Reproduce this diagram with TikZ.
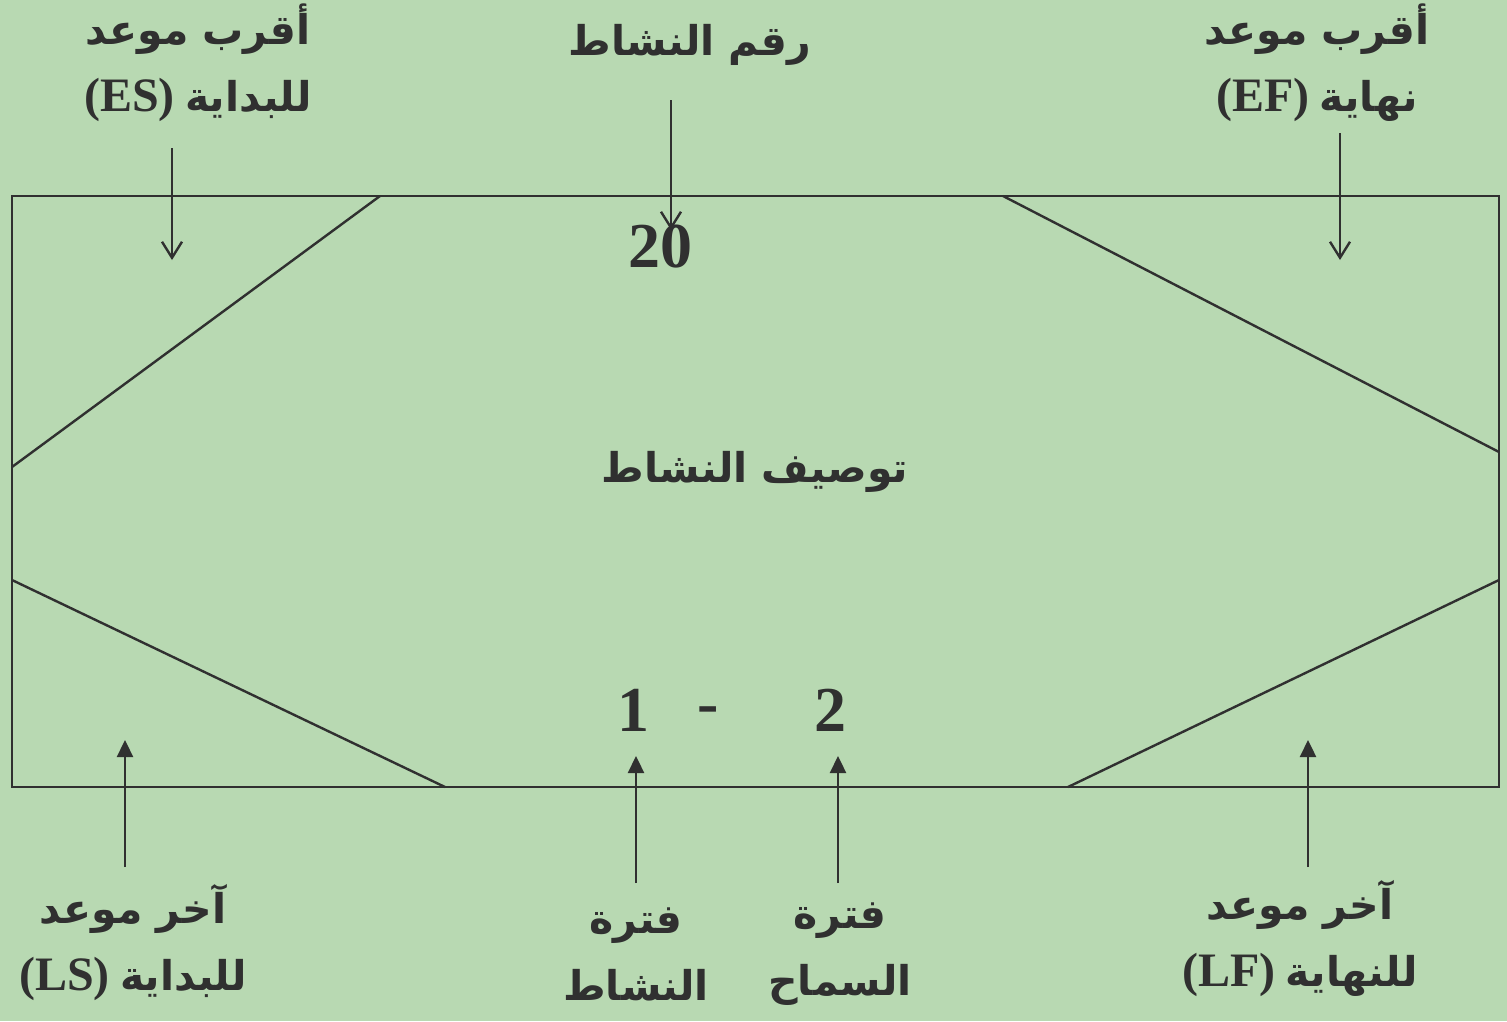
\documentclass[tikz,border=0pt]{standalone}
\usepackage{fontspec}
\setmainfont{Liberation Serif}
\newfontfamily\arabicfont[Script=Arabic]{DejaVu Sans}
\TeXXeTstate=1
\usetikzlibrary{arrows.meta}
\definecolor{bggreen}{RGB}{184,217,178}
\definecolor{ink}{RGB}{48,48,48}
\newcommand{\ar}[1]{{\arabicfont\beginR #1\endR}}
\newcommand{\lat}[1]{{\fontsize{48}{66}\selectfont\bfseries #1}}

\begin{document}
\begin{tikzpicture}[x=1pt,y=-1pt,
  lbl/.style={text=ink,font=\fontsize{41}{67}\selectfont\bfseries,align=center,inner sep=0pt},
  num/.style={text=ink,font=\fontsize{64}{64}\selectfont\bfseries,inner sep=0pt},
  edge/.style={draw=ink,line width=2.4pt},
  dnarr/.style={draw=ink,line width=2.4pt,-{Straight Barb[length=16pt,width=20pt,line width=2.4pt]}},
  uparr/.style={draw=ink,line width=2.4pt,-{Triangle[length=17pt,width=16pt]}}]
\useasboundingbox (0,0) rectangle (1507,1021);
\fill[bggreen] (0,0) rectangle (1507,1021);
% activity box
\node[edge,minimum width=1487pt,minimum height=591pt,inner sep=0pt] (box) at (755.5,491.5) {};
\draw[edge] (380,196) -- (12,467);
\draw[edge] (1003,196) -- (1499,452);
\draw[edge] (12,580) -- (445,787);
\draw[edge] (1068,787) -- (1499,580);
% texts in the box
\node[num] (id) at (660,247) {20};
\node[lbl] (desc) at (755,472) {\ar{توصيف النشاط}};
\node[num] (dur) at (633,710) {1};
\node[num] (dash) at (708,716) {-};
\node[num] (slack) at (830,710) {2};
% labels
\node[lbl] (es) at (198,63) {\ar{أقرب موعد}\\\lat{(ES)} \ar{للبداية}};
\node[lbl] (idl) at (690,45) {\ar{رقم النشاط}};
\node[lbl] (ef) at (1317,63) {\ar{أقرب موعد}\\\lat{(EF)} \ar{نهاية}};
\node[lbl] (ls) at (133,943) {\ar{آخر موعد}\\\lat{(LS)} \ar{للبداية}};
\node[lbl] (durl) at (636,954) {\ar{فترة}\\\ar{النشاط}};
\node[lbl] (slackl) at (840,954) {\ar{فترة}\\\ar{السماح}};
\node[lbl] (lf) at (1300,939) {\ar{آخر موعد}\\\lat{(LF)} \ar{للنهاية}};
% arrow ends
\coordinate (esA) at (172,148);  \coordinate (esB) at (172,260);
\coordinate (idA) at (671,100);  \coordinate (idB) at (671,230);
\coordinate (efA) at (1340,133); \coordinate (efB) at (1340,260);
\coordinate (lsA) at (125,867);  \coordinate (lsB) at (125,740);
\coordinate (duA) at (636,883);  \coordinate (duB) at (636,756);
\coordinate (slA) at (838,883);  \coordinate (slB) at (838,756);
\coordinate (lfA) at (1308,867); \coordinate (lfB) at (1308,740);
\draw[dnarr] (esA) -- (esB);
\draw[dnarr] (idA) -- (idB);
\draw[dnarr] (efA) -- (efB);
\draw[uparr] (lsA) -- (lsB);
\draw[uparr] (duA) -- (duB);
\draw[uparr] (slA) -- (slB);
\draw[uparr] (lfA) -- (lfB);
\end{tikzpicture}
\end{document}
